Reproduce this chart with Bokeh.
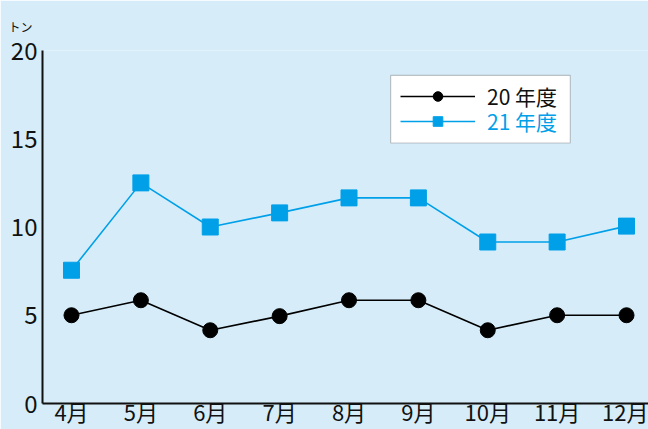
from bokeh.plotting import figure
from bokeh.models import Range1d, FixedTicker, Legend, LegendItem, BoxAnnotation
from bokeh.embed import file_html
from bokeh.resources import INLINE

months = ["4月", "5月", "6月", "7月", "8月", "9月", "10月", "11月", "12月"]
series_20 = [5.0, 5.85, 4.15, 4.95, 5.85, 5.85, 4.15, 5.0, 5.0]
series_21 = [7.55, 12.5, 10.0, 10.8, 11.65, 11.65, 9.15, 9.15, 10.05]
y_ticks = [0, 5, 10, 15, 20]
name_20 = "20 年度"
name_21 = "21 年度"
unit_label = "トン"

BG = "#d6edf9"
BLUE = "#00a0e9"
FONT = "Noto Sans CJK JP"

xs = list(range(len(months)))

p = figure(width=648, height=429, output_backend="svg", toolbar_location=None,
           x_range=Range1d(-0.418, 8.317), y_range=Range1d(0, 20),
           min_border_left=42, min_border_right=0, min_border_top=48, min_border_bottom=26,
           background_fill_color=BG, border_fill_color=BG, outline_line_color=None,
           title=unit_label)
p.title.text_font = FONT
p.title.text_font_size = "12px"
p.title.text_font_style = "normal"
p.title.text_color = "#111111"
p.title.offset = -34
p.title.standoff = 31

p.grid.visible = False

for ax in (p.xaxis[0], p.yaxis[0]):
    ax.axis_line_width = 2
    ax.axis_line_color = "#111111"
    ax.major_tick_in = 0
    ax.major_tick_out = 0
    ax.minor_tick_in = 0
    ax.minor_tick_out = 0
    ax.major_label_text_font = FONT
    ax.major_label_text_color = "#111111"

p.xaxis.ticker = FixedTicker(ticks=xs)
p.xaxis.major_label_overrides = {i: m for i, m in enumerate(months)}
p.xaxis.major_label_text_font_size = "22px"
p.xaxis.major_label_standoff = -9
p.yaxis.ticker = FixedTicker(ticks=y_ticks)
p.yaxis.major_label_text_font_size = "24px"
p.yaxis.major_label_standoff = 5

l20 = p.line(xs, series_20, line_color="#000000", line_width=1.6)
m20 = p.scatter(xs, series_20, marker="circle", size=15, fill_color="#000000", line_color="#000000")
l21 = p.line(xs, series_21, line_color=BLUE, line_width=1.6)
m21 = p.scatter(xs, series_21, marker="square", size=16, fill_color=BLUE, line_color=BLUE)

box = BoxAnnotation(left=4.6, right=7.19, top=18.59, bottom=14.76,
                    fill_color="white", fill_alpha=1.0, line_color="#444444", line_width=1.2,
                    level="underlay")
p.add_layout(box)

def make_legend(item, color, loc):
    lg = Legend(items=[item], location=loc, padding=0, margin=0,
                background_fill_alpha=0, border_line_color=None,
                glyph_width=75, glyph_height=24, label_height=24,
                label_standoff=12, label_text_font=FONT, label_text_font_size="21px",
                label_text_color=color)
    return lg

lg1 = make_legend(LegendItem(label=name_20, renderers=[l20, m20]), "#111111", (358, 292))
lg2 = make_legend(LegendItem(label=name_21, renderers=[l21, m21]), BLUE, (358, 267))
p.add_layout(lg1)
p.add_layout(lg2)

open("out.html", "w").write(file_html(p, INLINE))
